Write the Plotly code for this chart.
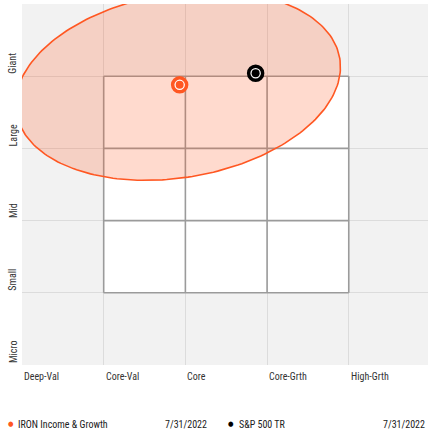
import numpy as np
import plotly.graph_objects as go

# ---- data ----
style_labels = ["Deep-Val", "Core-Val", "Core", "Core-Grth", "High-Grth"]
size_labels = ["Micro", "Small", "Mid", "Large", "Giant"]
series_names = ["IRON Income & Growth", "S&P 500 TR"]
series_dates = ["7/31/2022", "7/31/2022"]
series_x = [1.93, 2.86]
series_y = [3.88, 4.04]
series_colors = ["#ff5722", "#000000"]

# ellipse (centre in data units, semi-axes in pixels, tilt in degrees)
ell_cx, ell_cy = 1.91, 3.87
ell_a_px, ell_b_px, ell_tilt = 164, 92, 9.6

W, H = 428, 434
ML, MR, MT, MB = 22, 0, 4, 69
XR = [0, 4.97]
YR = [0, 5]
px_x = (W - ML - MR) / (XR[1] - XR[0])
px_y = (H - MT - MB) / (YR[1] - YR[0])

FONT = "Liberation Sans Narrow, Roboto Condensed, DejaVu Sans Condensed, Arial Narrow, sans-serif"

fig = go.Figure()

# ellipse outline
t = np.linspace(0, 2 * np.pi, 240)
phi = np.deg2rad(ell_tilt)
ux = ell_a_px * np.cos(t) * np.cos(phi) - ell_b_px * np.sin(t) * np.sin(phi)
uy = ell_a_px * np.cos(t) * np.sin(phi) + ell_b_px * np.sin(t) * np.cos(phi)
fig.add_trace(go.Scatter(
    x=ell_cx + ux / px_x, y=ell_cy + uy / px_y, mode="lines",
    fill="toself", fillcolor="rgba(255,87,34,0.22)",
    line=dict(color="#ff5722", width=1.6), hoverinfo="skip", showlegend=False))

# markers
for i in range(len(series_names)):
    fig.add_trace(go.Scatter(
        x=[series_x[i]], y=[series_y[i]], mode="markers",
        marker=dict(size=14, color="white", line=dict(color=series_colors[i], width=3.5)),
        showlegend=False, name=series_names[i]))
    fig.add_trace(go.Scatter(
        x=[series_x[i]], y=[series_y[i]], mode="markers",
        marker=dict(size=8, color=series_colors[i]),
        showlegend=False, hoverinfo="skip"))

shapes = []
# white style box
shapes.append(dict(type="rect", xref="x", yref="y", x0=1, x1=4, y0=1, y1=4,
                   fillcolor="white", line=dict(width=0), layer="below"))
# inner box grid
for k in range(1, 5):
    shapes.append(dict(type="line", xref="x", yref="y", x0=k, x1=k, y0=1, y1=4,
                       line=dict(color="#9b9b9b", width=1.6), layer="between"))
    shapes.append(dict(type="line", xref="x", yref="y", x0=1, x1=4, y0=k, y1=k,
                       line=dict(color="#9b9b9b", width=1.6), layer="between"))

annotations = []
for i, lab in enumerate(style_labels):
    annotations.append(dict(x=i, y=0, xref="x", yref="y", text=lab, showarrow=False,
                            xanchor="left", yanchor="top", yshift=-4,
                            font=dict(family=FONT, size=10, color="#333333")))
for i, lab in enumerate(size_labels):
    annotations.append(dict(x=0, y=i, xref="paper", yref="y", text=lab, showarrow=False,
                            textangle=-90, xanchor="center", yanchor="bottom", xshift=-9,
                            font=dict(family=FONT, size=10, color="#333333")))

# bottom legend
leg_y = (H - MB - 424) / (H - MT - MB)
dot_px = [11, 231]
text_px = [16, 237]
date_px = [209, 427]
for i in range(len(series_names)):
    annotations.append(dict(x=(dot_px[i] - ML) / (W - ML - MR), y=leg_y, xref="paper", yref="paper",
                            text="●", showarrow=False, xanchor="center", yanchor="middle",
                            font=dict(family=FONT, size=7, color=series_colors[i])))
    annotations.append(dict(x=(text_px[i] - ML) / (W - ML - MR), y=leg_y, xref="paper", yref="paper",
                            text=series_names[i], showarrow=False, xanchor="left", yanchor="middle",
                            font=dict(family=FONT, size=10, color="#222222")))
    annotations.append(dict(x=(date_px[i] - ML) / (W - ML - MR), y=leg_y, xref="paper", yref="paper",
                            text=series_dates[i], showarrow=False, xanchor="right", yanchor="middle",
                            font=dict(family=FONT, size=10, color="#222222")))

fig.update_layout(
    width=W, height=H, margin=dict(l=ML, r=MR, t=MT, b=MB),
    paper_bgcolor="white", plot_bgcolor="#f2f2f2",
    shapes=shapes, annotations=annotations, showlegend=False,
    xaxis=dict(range=XR, showgrid=True, dtick=1, tick0=0, gridcolor="#dcdcdc", gridwidth=1.4,
               zeroline=False, showticklabels=False, showline=False, fixedrange=True),
    yaxis=dict(range=YR, showgrid=True, dtick=1, tick0=0, gridcolor="#dcdcdc", gridwidth=1.4,
               zeroline=False, showticklabels=False, showline=False, fixedrange=True),
)

fig.write_html("out.html", config={"displayModeBar": False},
               post_script="document.body.style.margin='0';document.body.style.overflow='hidden';")
